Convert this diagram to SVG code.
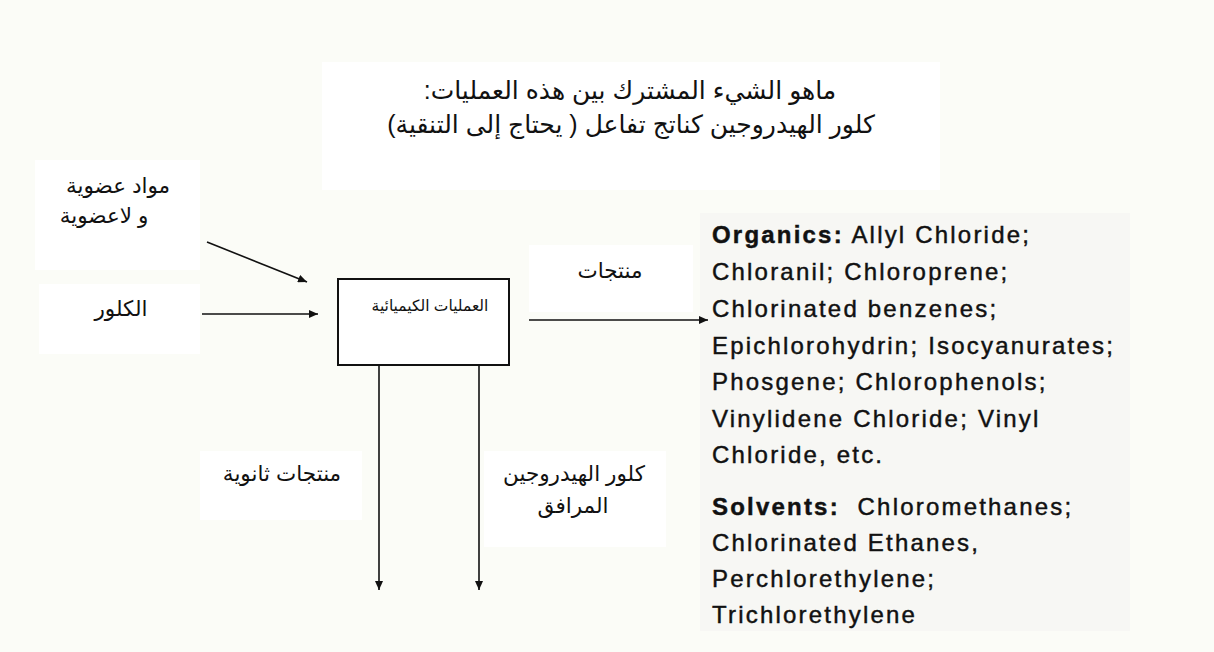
<svg xmlns="http://www.w3.org/2000/svg" width="1214" height="652" viewBox="0 0 1214 652">
  <style>
    .bg { fill: #fbfcf7; }
    .panel { fill: #ffffff; }
    .ar { font-family: "Liberation Sans", "DejaVu Sans", sans-serif; fill: #111; direction: rtl; text-anchor: middle; }
    .title { font-size: 25px; }
    .lbl { font-size: 21.5px; }
    .small { font-size: 15.5px; }
    .en { font-family: "Liberation Sans", Arial, sans-serif; font-size: 24px; letter-spacing: 2.2px; fill: #111; stroke: #111; stroke-width: 0.45; }
    .en .b { font-weight: bold; }
    .link { stroke: #111; stroke-width: 1.6; fill: none; marker-end: url(#arrow); }
    .proc { fill: #ffffff; stroke: #111; stroke-width: 2; }
  </style>
  <defs>
    <marker id="arrow" markerUnits="userSpaceOnUse" markerWidth="10" markerHeight="8" refX="9" refY="4" orient="auto">
      <path d="M0,0 L9,4 L0,8 Z" fill="#111"/>
    </marker>
  </defs>

  <rect class="bg" x="0" y="0" width="1214" height="652"/>

  <!-- question heading -->
  <g id="heading">
    <rect class="panel" x="322" y="62" width="618" height="128"/>
    <text class="ar title" x="630" y="99">ماهو الشيء المشترك بين هذه العمليات:</text>
    <text class="ar title" x="631" y="133">كلور الهيدروجين كناتج تفاعل ( يحتاج إلى التنقية)</text>
  </g>

  <!-- inputs -->
  <g id="input-materials">
    <rect class="panel" x="35" y="160" width="165" height="110"/>
    <text class="ar lbl" x="118" y="193">مواد عضوية</text>
    <text class="ar lbl" x="104" y="223">و لاعضوية</text>
  </g>
  <g id="input-chlorine">
    <rect class="panel" x="39" y="284" width="161" height="70"/>
    <text class="ar lbl" x="121" y="316">الكلور</text>
  </g>

  <!-- central process -->
  <g id="process">
    <rect class="proc" x="338" y="279" width="171" height="86"/>
    <text class="ar small" x="430" y="311">العمليات الكيميائية</text>
  </g>

  <!-- output labels -->
  <g id="label-products">
    <rect class="panel" x="529" y="245" width="164" height="67"/>
    <text class="ar lbl" x="610" y="278">منتجات</text>
  </g>
  <g id="label-byproducts">
    <rect class="panel" x="200" y="451" width="162" height="69"/>
    <text class="ar lbl" x="282" y="481">منتجات ثانوية</text>
  </g>
  <g id="label-hcl">
    <rect class="panel" x="484" y="451" width="182" height="96"/>
    <text class="ar lbl" x="574" y="481">كلور الهيدروجين</text>
    <text class="ar lbl" x="573" y="513">المرافق</text>
  </g>

  <!-- product list -->
  <g id="product-list">
    <rect x="700" y="213" width="430" height="418" fill="#f7f7f4"/>
    <text class="en" x="712" y="243"><tspan class="b">Organics:</tspan> Allyl Chloride;</text>
    <text class="en" x="712" y="280">Chloranil; Chloroprene;</text>
    <text class="en" x="712" y="317">Chlorinated benzenes;</text>
    <text class="en" x="712" y="354">Epichlorohydrin; Isocyanurates;</text>
    <text class="en" x="712" y="390">Phosgene; Chlorophenols;</text>
    <text class="en" x="712" y="427">Vinylidene Chloride; Vinyl</text>
    <text class="en" x="712" y="463">Chloride, etc.</text>
    <text class="en" x="712" y="515" xml:space="preserve"><tspan class="b">Solvents:</tspan>  Chloromethanes;</text>
    <text class="en" x="712" y="551">Chlorinated Ethanes,</text>
    <text class="en" x="712" y="587">Perchlorethylene;</text>
    <text class="en" x="712" y="623">Trichlorethylene</text>
  </g>

  <!-- flows -->
  <g id="connectors">
    <line class="link" x1="207" y1="242" x2="307" y2="282"/>
    <line class="link" x1="202" y1="314" x2="318" y2="314"/>
    <line class="link" x1="529" y1="320" x2="708" y2="320"/>
    <line class="link" x1="379" y1="365" x2="379" y2="590"/>
    <line class="link" x1="479" y1="365" x2="479" y2="590"/>
  </g>
</svg>
